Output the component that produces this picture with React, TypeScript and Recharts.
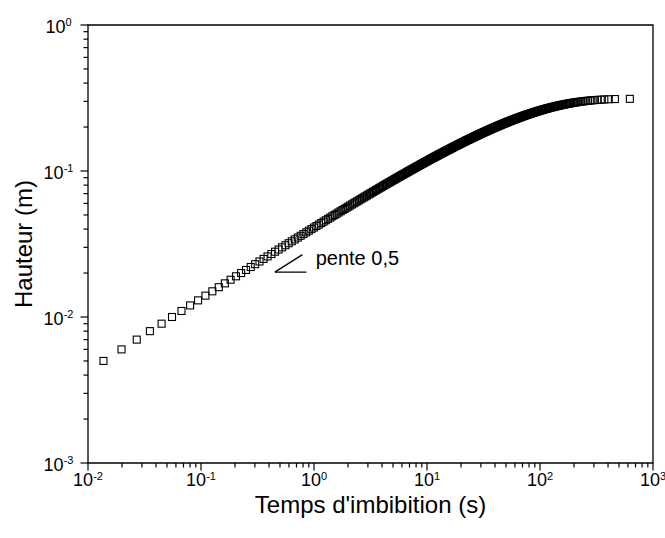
import { ScatterChart, Scatter, XAxis, YAxis, ReferenceArea, ReferenceLine, ReferenceDot } from 'recharts';

const FONT = '"Liberation Sans", Arial, sans-serif';
const W = 665;
const H = 538;
const LEFT = 88;
const TOP = 25;
const RIGHT = 653;
const BOTTOM = 463;

// hauteur (m), one point per mm
const HEIGHT_M = [
  0.005, 0.006, 0.007, 0.008, 0.009, 0.010, 0.011, 0.012, 0.013, 0.014,
  0.015, 0.016, 0.017, 0.018, 0.019, 0.020, 0.021, 0.022, 0.023, 0.024,
  0.025, 0.026, 0.027, 0.028, 0.029, 0.030, 0.031, 0.032, 0.033, 0.034,
  0.035, 0.036, 0.037, 0.038, 0.039, 0.040, 0.041, 0.042, 0.043, 0.044,
  0.045, 0.046, 0.047, 0.048, 0.049, 0.050, 0.051, 0.052, 0.053, 0.054,
  0.055, 0.056, 0.057, 0.058, 0.059, 0.060, 0.061, 0.062, 0.063, 0.064,
  0.065, 0.066, 0.067, 0.068, 0.069, 0.070, 0.071, 0.072, 0.073, 0.074,
  0.075, 0.076, 0.077, 0.078, 0.079, 0.080, 0.081, 0.082, 0.083, 0.084,
  0.085, 0.086, 0.087, 0.088, 0.089, 0.090, 0.091, 0.092, 0.093, 0.094,
  0.095, 0.096, 0.097, 0.098, 0.099, 0.100, 0.101, 0.102, 0.103, 0.104,
  0.105, 0.106, 0.107, 0.108, 0.109, 0.110, 0.111, 0.112, 0.113, 0.114,
  0.115, 0.116, 0.117, 0.118, 0.119, 0.120, 0.121, 0.122, 0.123, 0.124,
  0.125, 0.126, 0.127, 0.128, 0.129, 0.130, 0.131, 0.132, 0.133, 0.134,
  0.135, 0.136, 0.137, 0.138, 0.139, 0.140, 0.141, 0.142, 0.143, 0.144,
  0.145, 0.146, 0.147, 0.148, 0.149, 0.150, 0.151, 0.152, 0.153, 0.154,
  0.155, 0.156, 0.157, 0.158, 0.159, 0.160, 0.161, 0.162, 0.163, 0.164,
  0.165, 0.166, 0.167, 0.168, 0.169, 0.170, 0.171, 0.172, 0.173, 0.174,
  0.175, 0.176, 0.177, 0.178, 0.179, 0.180, 0.181, 0.182, 0.183, 0.184,
  0.185, 0.186, 0.187, 0.188, 0.189, 0.190, 0.191, 0.192, 0.193, 0.194,
  0.195, 0.196, 0.197, 0.198, 0.199, 0.200, 0.201, 0.202, 0.203, 0.204,
  0.205, 0.206, 0.207, 0.208, 0.209, 0.210, 0.211, 0.212, 0.213, 0.214,
  0.215, 0.216, 0.217, 0.218, 0.219, 0.220, 0.221, 0.222, 0.223, 0.224,
  0.225, 0.226, 0.227, 0.228, 0.229, 0.230, 0.231, 0.232, 0.233, 0.234,
  0.235, 0.236, 0.237, 0.238, 0.239, 0.240, 0.241, 0.242, 0.243, 0.244,
  0.245, 0.246, 0.247, 0.248, 0.249, 0.250, 0.251, 0.252, 0.253, 0.254,
  0.255, 0.256, 0.257, 0.258, 0.259, 0.260, 0.261, 0.262, 0.263, 0.264,
  0.265, 0.266, 0.267, 0.268, 0.269, 0.270, 0.271, 0.272, 0.273, 0.274,
  0.275, 0.276, 0.277, 0.278, 0.279, 0.280, 0.281, 0.282, 0.283, 0.284,
  0.285, 0.286, 0.287, 0.288, 0.289, 0.290, 0.291, 0.292, 0.293, 0.294,
  0.295, 0.296, 0.297, 0.298, 0.299, 0.300, 0.301, 0.302, 0.303, 0.304,
  0.305, 0.306, 0.307, 0.308, 0.309, 0.310, 0.311, 0.312,
];

// temps d'imbibition (s), same order
const TIME_S = [
  0.0137, 0.0198, 0.0270, 0.0353, 0.0448, 0.0554, 0.0672, 0.0801, 0.0942, 0.1095,
  0.1260, 0.1437, 0.1626, 0.1827, 0.2040, 0.2266, 0.2503, 0.2754, 0.3017, 0.3292,
  0.3581, 0.3882, 0.4196, 0.4522, 0.4862, 0.5216, 0.5582, 0.5962, 0.6355, 0.6762,
  0.7182, 0.7617, 0.8065, 0.8527, 0.9003, 0.9493, 0.9998, 1.0517, 1.1051, 1.1598,
  1.2161, 1.2739, 1.3331, 1.3938, 1.4561, 1.5199, 1.586, 1.652, 1.7213, 1.7905,
  1.8628, 1.935, 2.0105, 2.086, 2.165, 2.244, 2.3263, 2.4085, 2.4941, 2.5796,
  2.6686, 2.7576, 2.8501, 2.9426, 3.0387, 3.1347, 3.2343, 3.3338, 3.4371, 3.5404,
  3.6474, 3.7544, 3.8652, 3.976, 4.0906, 4.2052, 4.3238, 4.4423, 4.5649, 4.6875,
  4.8141, 4.9407, 5.0715, 5.2022, 5.3371, 5.472, 5.6113, 5.7505, 5.8941, 6.0376,
  6.1856, 6.3336, 6.4861, 6.6386, 6.7957, 6.9528, 7.1146, 7.2764, 7.443, 7.6096,
  7.7811, 7.9526, 8.1291, 8.3055, 8.487, 8.6685, 8.8552, 9.0418, 9.2337, 9.4256,
  9.6229, 9.8202, 10.023, 10.226, 10.435, 10.643, 10.857, 11.071, 11.291, 11.511,
  11.737, 11.963, 12.195, 12.427, 12.665, 12.903, 13.148, 13.392, 13.643, 13.894,
  14.152, 14.41, 14.675, 14.939, 15.211, 15.482, 15.761, 16.039, 16.325, 16.61,
  16.904, 17.197, 17.498, 17.799, 18.108, 18.417, 18.734, 19.05, 19.375, 19.7,
  20.034, 20.367, 20.71, 21.052, 21.403, 21.754, 22.114, 22.474, 22.844, 23.213,
  23.592, 23.971, 24.36, 24.749, 25.148, 25.547, 25.957, 26.366, 26.786, 27.206,
  27.638, 28.069, 28.512, 28.954, 29.409, 29.863, 30.33, 30.796, 31.275, 31.753,
  32.245, 32.737, 33.242, 33.746, 34.265, 34.784, 35.317, 35.849, 36.396, 36.943,
  37.506, 38.068, 38.646, 39.224, 39.818, 40.412, 41.023, 41.634, 42.262, 42.89,
  43.537, 44.183, 44.848, 45.513, 46.197, 46.881, 47.586, 48.29, 49.016, 49.741,
  50.488, 51.235, 52.005, 52.775, 53.569, 54.362, 55.181, 55.999, 56.844, 57.688,
  58.56, 59.431, 60.331, 61.23, 62.16, 63.089, 64.05, 65.01, 66.003, 66.996,
  68.024, 69.051, 70.115, 71.178, 72.28, 73.382, 74.525, 75.667, 76.852, 78.036,
  79.266, 80.496, 81.774, 83.052, 84.381, 85.71, 87.093, 88.476, 89.917, 91.358,
  92.861, 94.364, 95.933, 97.502, 99.141, 100.78, 102.5, 104.22, 106.02, 107.82,
  109.71, 111.6, 113.59, 115.58, 117.68, 119.77, 121.99, 124.2, 126.54, 128.88,
  131.37, 133.85, 136.5, 139.14, 141.97, 144.79, 147.76, 150.84, 154.03, 157.34,
  160.78, 164.37, 168.1, 172.0, 176.07, 180.34, 184.81, 189.52, 194.47, 199.71,
  205.25, 211.15, 217.43, 224.15, 231.38, 239.19, 247.68, 256.97, 267.23, 278.67,
  291.58, 306.4, 323.75, 344.66, 370.9, 406.2, 460.0, 624,
];

const X_DECADES = [0.01, 0.1, 1, 10, 100, 1000];
const Y_DECADES = [0.001, 0.01, 0.1, 1];
const MINOR_STEPS = [2, 3, 4, 5, 6, 7, 8, 9];

function logTicks(decades: number[]) {
  const out: number[] = [];
  decades.forEach((d, i) => {
    out.push(d);
    if (i < decades.length - 1) MINOR_STEPS.forEach((m) => out.push(d * m));
  });
  return out;
}

const points = TIME_S.map((t, i) => ({ t, h: HEIGHT_M[i] }));

function XTick({ x, payload }: any) {
  const v = payload.value;
  const major = X_DECADES.includes(v);
  return (
    <g>
      <line x1={x} x2={x} y1={BOTTOM} y2={BOTTOM + (major ? 7.5 : 4.5)} stroke="#000" strokeWidth={1.2} />
      {major && (
        <text x={x} y={486} textAnchor="middle" fontSize={18} fontFamily={FONT} fill="#000">
          10<tspan dy={-6.5} fontSize={11}>{Math.round(Math.log10(v))}</tspan>
        </text>
      )}
    </g>
  );
}

function YTick({ y, payload }: any) {
  const v = payload.value;
  const major = Y_DECADES.includes(v);
  return (
    <g>
      <line x1={LEFT - (major ? 7.5 : 4.5)} x2={LEFT} y1={y} y2={y} stroke="#000" strokeWidth={1.2} />
      {major && (
        <text x={58.5} y={y + 7.5} textAnchor="middle" fontSize={18} fontFamily={FONT} fill="#000">
          10<tspan dy={-6.5} fontSize={11}>{Math.round(Math.log10(v))}</tspan>
        </text>
      )}
    </g>
  );
}

const square = (p: any) => (
  <rect x={p.cx - 3.5} y={p.cy - 3.5} width={7} height={7} fill="none" stroke="#000" strokeWidth={1.1} />
);

export default function App() {
  return (
    <div style={{ width: W, height: H }}>
      <style>{'body{margin:0}'}</style>
      <ScatterChart width={W} height={H} margin={{ top: TOP, right: W - RIGHT, bottom: 0, left: 0 }}>
        <XAxis
          dataKey="t"
          type="number"
          scale="log"
          domain={[0.01, 1000]}
          allowDataOverflow
          ticks={logTicks(X_DECADES)}
          interval={0}
          tick={<XTick />}
          tickLine={false}
          axisLine={false}
          height={H - BOTTOM}
          label={() => (
            <text x={(LEFT + RIGHT) / 2} y={513} textAnchor="middle" fontSize={24} fontFamily={FONT} fill="#000">
              Temps d'imbibition (s)
            </text>
          )}
        />
        <YAxis
          dataKey="h"
          type="number"
          scale="log"
          domain={[0.001, 1]}
          allowDataOverflow
          ticks={logTicks(Y_DECADES)}
          interval={0}
          tick={<YTick />}
          tickLine={false}
          axisLine={false}
          width={LEFT}
          label={() => (
            <text
              x={31.5}
              y={(TOP + BOTTOM) / 2}
              transform={`rotate(-90, 31.5, ${(TOP + BOTTOM) / 2})`}
              textAnchor="middle"
              fontSize={24}
              fontFamily={FONT}
              fill="#000"
            >
              Hauteur (m)
            </text>
          )}
        />
        <ReferenceArea x1={0.01} x2={1000} y1={0.001} y2={1} fill="none" stroke="#000" strokeWidth={1.3} />
        <Scatter data={points} isAnimationActive={false} shape={square} />
        {/* pente 0,5 marker */}
        <ReferenceLine segment={[{ x: 0.45, y: 0.0203 }, { x: 0.857, y: 0.0203 }]} stroke="#000" strokeWidth={1.3} />
        <ReferenceLine segment={[{ x: 0.45, y: 0.0203 }, { x: 0.79, y: 0.02675 }]} stroke="#000" strokeWidth={1.3} />
        <ReferenceDot
          x={1.035}
          y={0.0226}
          r={0}
          shape={(p: any) => (
            <text x={p.cx} y={p.cy} fontSize={20} fontFamily={FONT} fill="#000">
              pente 0,5
            </text>
          )}
        />
      </ScatterChart>
    </div>
  );
}
